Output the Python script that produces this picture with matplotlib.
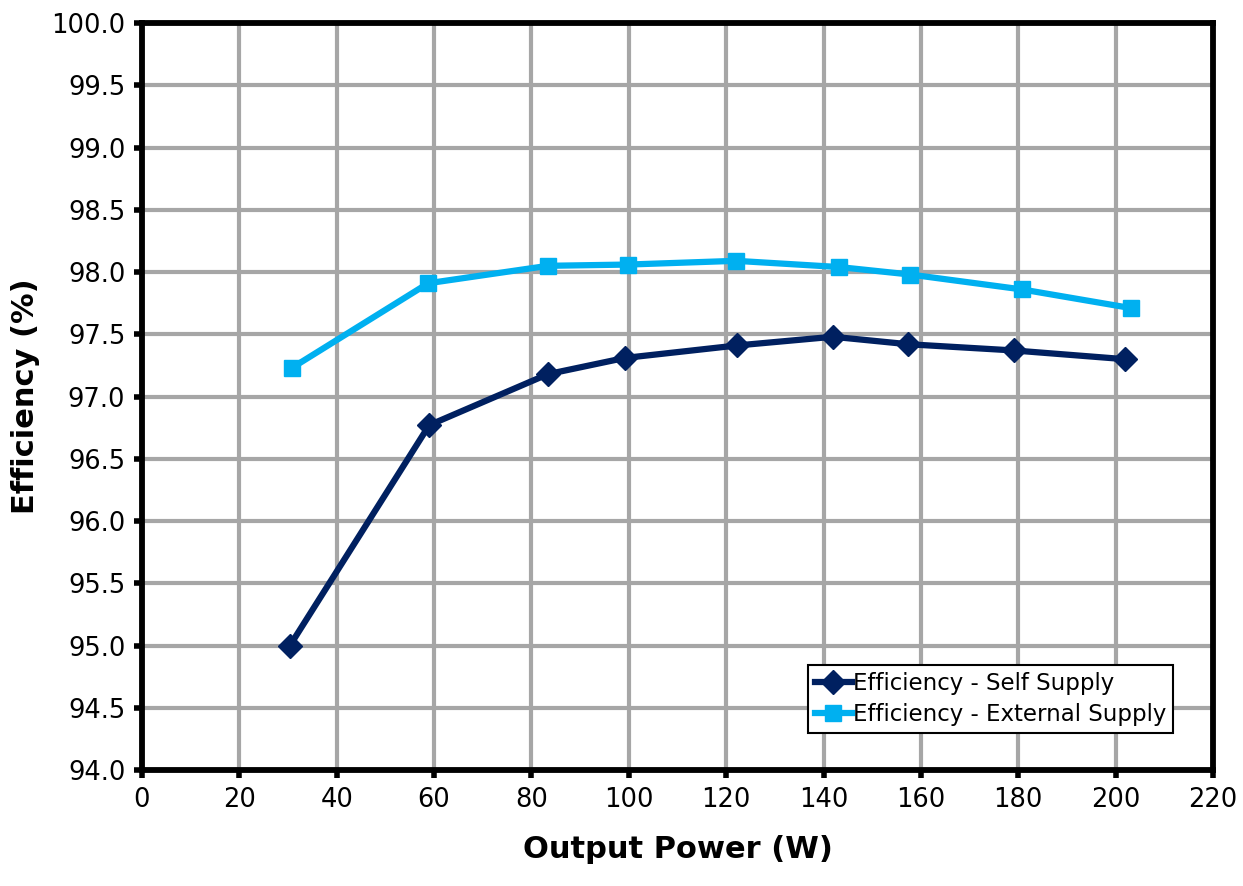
import matplotlib
matplotlib.use('Agg')
import matplotlib.pyplot as plt
import numpy as np

# data
power_self = [30.4, 59.0, 83.4, 99.2, 122.2, 141.9, 157.4, 179.1, 201.9]
eff_self = [95.00, 96.77, 97.18, 97.31, 97.41, 97.48, 97.42, 97.37, 97.30]
power_ext = [30.8, 58.8, 83.4, 99.8, 122.0, 143.2, 157.8, 180.8, 203.2]
eff_ext = [97.23, 97.91, 98.05, 98.06, 98.09, 98.04, 97.98, 97.86, 97.71]

plt.rcParams['font.family'] = ['DejaVu Sans']

fig = plt.figure(figsize=(12.43, 8.86), dpi=100)
ax = fig.add_axes([0.1142, 0.1309, 0.8617, 0.8431])

ax.plot(power_self, eff_self, color='#002060', lw=4.5, marker='D', ms=12,
        label='Efficiency - Self Supply', zorder=3)
ax.plot(power_ext, eff_ext, color='#00b0f0', lw=4.5, marker='s', ms=11,
        label='Efficiency - External Supply', zorder=3)

ax.set_xlim(0, 220)
ax.set_ylim(94, 100)
ax.set_xticks(np.arange(0, 221, 20))
ax.set_yticks(np.arange(94, 100.01, 0.5))
ax.set_yticklabels(['%.1f' % v for v in np.arange(94, 100.01, 0.5)])
ax.grid(True, color='#a6a6a6', lw=3, zorder=0)
ax.set_axisbelow(True)
for s in ax.spines.values():
    s.set_linewidth(4.2)
ax.tick_params(direction='out', length=6, width=4, labelsize=18.5, pad=6)

ax.set_xlabel('Output Power (W)', fontsize=22, fontweight='bold', labelpad=16)
ax.set_ylabel('Efficiency (%)', fontsize=22, fontweight='bold', labelpad=8)

leg = ax.legend(loc='lower right', bbox_to_anchor=(0.9627, 0.0495), fontsize=16.5,
                frameon=True, fancybox=False, edgecolor='black', framealpha=1,
                handlelength=1.6, handletextpad=0.05, borderpad=0.3, labelspacing=0.35,
                borderaxespad=0)
leg.get_frame().set_linewidth(1.5)

fig.savefig('out.png', dpi=100)
